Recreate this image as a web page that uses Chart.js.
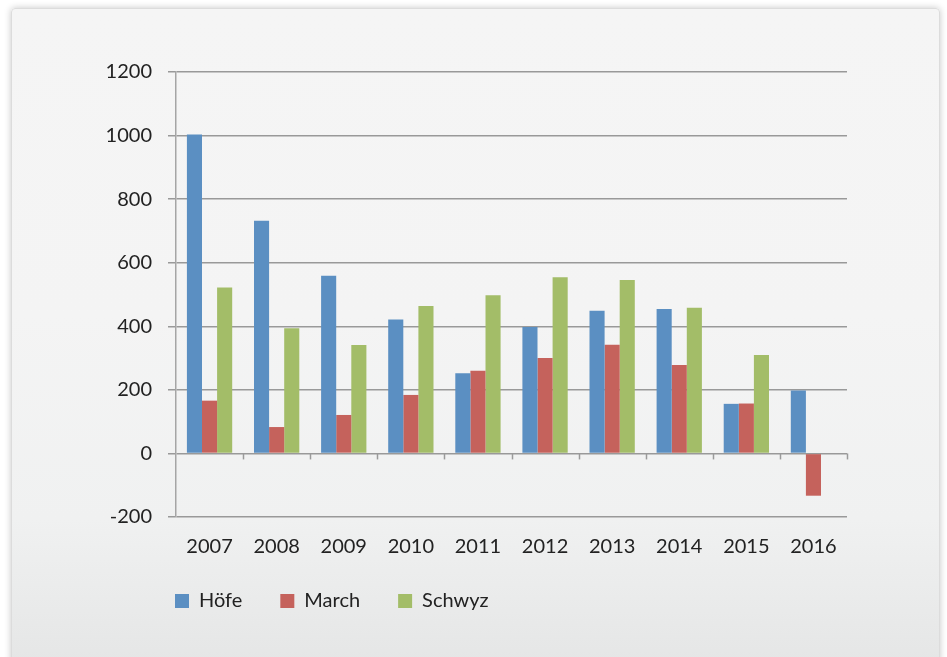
<!DOCTYPE html>
<html>
<head>
<meta charset="utf-8">
<script src="https://cdn.jsdelivr.net/npm/chart.js@4"></script>
<style>
  html, body { margin: 0; padding: 0; background: #ffffff; width: 947px; height: 657px; overflow: hidden; }
  #card {
    position: absolute; left: 11px; top: 8px; width: 927px; height: 680px;
    background: linear-gradient(to bottom, #f5f5f5 0%, #f4f4f4 45%, #f0f1f1 75%, #e3e4e4 100%);
    border: 1px solid #dcdcdc; border-radius: 4px;
    box-shadow: 0 0 7px rgba(0,0,0,0.22);
  }
  #wrap { position: absolute; left: 0; top: 0; width: 947px; height: 657px; }
</style>
</head>
<body>
<div id="card"></div>
<div id="wrap"><canvas id="c" width="947" height="657"></canvas></div>
<script>
const categories = ['2007','2008','2009','2010','2011','2012','2013','2014','2015','2016'];
const hoefe  = [1003, 732, 559, 421, 252, 398, 449, 454, 156, 198];
const march  = [166, 83, 121, 184, 260, 300, 342, 278, 157, -133];
const schwyz = [522, 394, 341, 464, 498, 554, 546, 458, 310, 0];
const seriesNames = ['Höfe', 'March', 'Schwyz'];
const yTicks = [-200, 0, 200, 400, 600, 800, 1000, 1200];

const zeroTicks = {
  id: 'zeroTicks',
  afterDatasetsDraw(chart) {
    const x = chart.scales.x, y = chart.scales.y, ctx = chart.ctx;
    const y0 = y.getPixelForValue(0);
    ctx.save();
    ctx.strokeStyle = '#9a9a9a';
    ctx.lineWidth = 1.5;
    for (let i = 1; i <= categories.length; i++) {
      const px = Math.round(x.getPixelForValue(i - 0.5)) + 0.5;
      ctx.beginPath(); ctx.moveTo(px, y0); ctx.lineTo(px, y0 + 6); ctx.stroke();
    }
    ctx.restore();
  }
};

// place the legend under the plot, starting at the plot's left edge
const legendShift = {
  id: 'legendShift',
  afterLayout(chart) {
    const lg = chart.legend;
    const dx = chart.chartArea.left - lg.options.labels.padding - lg.left - 1;
    const dy = -14;
    lg.left += dx; lg.right += dx;
    lg.top += dy; lg.bottom += dy;
  }
};

new Chart(document.getElementById('c'), {
  type: 'bar',
  data: {
    labels: categories,
    datasets: [
      { label: seriesNames[0], data: hoefe,  backgroundColor: '#5b8fc2' },
      { label: seriesNames[1], data: march,  backgroundColor: '#c5625c' },
      { label: seriesNames[2], data: schwyz, backgroundColor: '#a3bd68' }
    ]
  },
  options: {
    responsive: false,
    animation: false,
    devicePixelRatio: 1,
    layout: { padding: { left: 0, right: 100, top: 72, bottom: 22 } },
    datasets: { bar: { categoryPercentage: 0.675, barPercentage: 1.0 } },
    plugins: {
      tooltip: { enabled: false },
      legend: {
        position: 'bottom',
        align: 'start',
        labels: {
          boxWidth: 14, boxHeight: 14, padding: 38,
          color: '#222', font: { family: 'Lato', size: 20 }
        }
      }
    },
    scales: {
      x: {
        offset: true,
        grid: { display: false },
        border: { display: false },
        ticks: { color: '#222', font: { family: 'Lato', size: 20 }, padding: 10, maxRotation: 0 },
        afterFit(s) { s.height = 50; }
      },
      y: {
        min: -200, max: 1200,
        afterBuildTicks(s) { s.ticks = yTicks.map(v => ({ value: v })); },
        grid: { color: '#999', lineWidth: 1.5, tickLength: 8, drawTicks: true },
        border: { display: true, color: '#a5a5a5', width: 1.5 },
        ticks: { color: '#222', font: { family: 'Lato', size: 20 }, padding: 16, callback: v => String(v) },
        afterFit(s) { s.width = 176; }
      }
    }
  },
  plugins: [zeroTicks, legendShift]
});
</script>
</body>
</html>
